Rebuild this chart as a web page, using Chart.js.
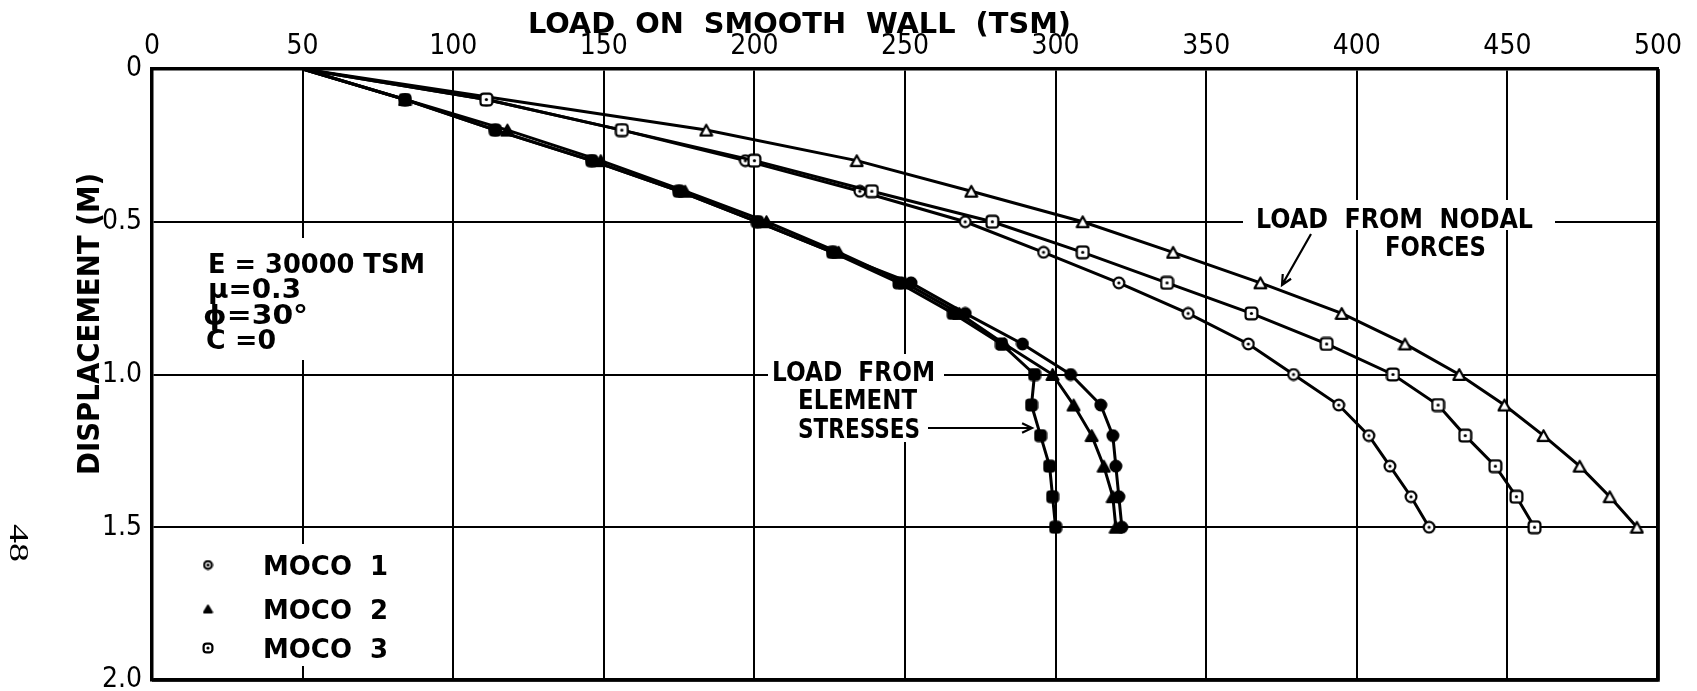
<!DOCTYPE html>
<html>
<head>
<meta charset="utf-8">
<script src="https://cdn.jsdelivr.net/npm/chart.js@4.4.1/dist/chart.umd.min.js"></script>
<style>
  html, body { margin: 0; padding: 0; background: #fff; }
  #chart { display: block; }
</style>
</head>
<body>
<canvas id="chart" width="1697" height="691"></canvas>
<script>
// displacement (M) at each load step
const displacement = [0, 0.1, 0.2, 0.3, 0.4, 0.5, 0.6, 0.7, 0.8, 0.9, 1.0, 1.1, 1.2, 1.3, 1.4, 1.5]

// load from nodal forces (TSM)
const nodalMoco1 = [50, 111, 156, 197, 235, 270, 296, 321, 344, 364, 379, 394, 404, 411, 418, 424]
const nodalMoco2 = [50, null, 184, 234, 272, 309, 339, 368, 395, 416, 434, 449, 462, 474, 484, 493]
const nodalMoco3 = [50, 111, 156, 200, 239, 279, 309, 337, 365, 390, 412, 427, 436, 446, 453, 459]

// load from element stresses (TSM)
const elemMoco1 = [50, 84, 114, 146, 175, 201, 226, 252, 270, 289, 305, 315, 319, 320, 321, 322]
const elemMoco2 = [50, 84, 118, 149, 177, 204, 228, 250, 268, 283, 299, 306, 312, 316, 319, 320]
const elemMoco3 = [50, 84, 114, 146, 175, 201, 226, 248, 266, 282, 293, 292, 295, 298, 299, 300]

const legendLabels = ['MOCO  1', 'MOCO  2', 'MOCO  3']
const paramLines = ['E = 30000 TSM', 'μ=0.3', 'ϕ=30°', 'C =0']

const FONT = '"DejaVu Sans Condensed", "Liberation Sans Narrow", "DejaVu Sans", sans-serif'

function makeMarker(shape, filled, size) {
  const c = document.createElement('canvas')
  c.width = size
  c.height = size
  const g = c.getContext('2d')
  const m = size / 2
  const lw = 2.2
  g.lineWidth = lw
  g.strokeStyle = '#000'
  g.fillStyle = filled ? '#000' : '#fff'
  g.lineJoin = 'round'
  g.beginPath()
  if (shape === 'circle') {
    g.arc(m, m, m - lw / 2 - 0.5, 0, Math.PI * 2)
  } else if (shape === 'rect') {
    g.roundRect(lw / 2 + 0.5, lw / 2 + 0.5, size - lw - 1, size - lw - 1, 3)
  } else {
    g.moveTo(m, lw)
    g.lineTo(size - lw / 2 - 0.5, size - lw / 2 - 1)
    g.lineTo(lw / 2 + 0.5, size - lw / 2 - 1)
    g.closePath()
  }
  g.fill()
  g.stroke()
  if (!filled && shape !== 'triangle') {
    g.fillStyle = '#000'
    g.beginPath()
    g.arc(m, m, 1.6, 0, Math.PI * 2)
    g.fill()
  }
  return c
}

const markers = {
  circleOpen: makeMarker('circle', false, 14),
  triOpen: makeMarker('triangle', false, 15),
  rectOpen: makeMarker('rect', false, 15),
  circleFill: makeMarker('circle', true, 14),
  triFill: makeMarker('triangle', true, 15),
  rectFill: makeMarker('rect', true, 14)
}
const legendMarkers = [makeMarker('circle', false, 11), makeMarker('triangle', true, 11), makeMarker('rect', false, 12)]

function toPoints(loads) {
  return loads
    .map((x, i) => ({ x: x, y: displacement[i] }))
    .filter(p => p.x !== null)
}

function series(label, loads, marker) {
  return {
    label: label,
    data: toPoints(loads),
    showLine: true,
    borderColor: '#000',
    borderWidth: 3,
    pointStyle: marker,
    pointRadius: ctx => (ctx.dataIndex === 0 ? 0 : 6),
    tension: 0
  }
}

function fitText(ctx, str, x, y, font, width) {
  ctx.save()
  ctx.font = font
  ctx.textAlign = 'left'
  ctx.textBaseline = 'alphabetic'
  const w = ctx.measureText(str).width
  ctx.translate(x, y)
  if (width) ctx.scale(width / w, 1)
  ctx.fillText(str, 0, 0)
  ctx.restore()
}

function arrow(ctx, x1, y1, x2, y2) {
  const a = Math.atan2(y2 - y1, x2 - x1)
  ctx.save()
  ctx.strokeStyle = '#000'
  ctx.lineWidth = 2.2
  ctx.beginPath()
  ctx.moveTo(x1, y1)
  ctx.lineTo(x2, y2)
  ctx.moveTo(x2 - 11 * Math.cos(a - 0.45), y2 - 11 * Math.sin(a - 0.45))
  ctx.lineTo(x2, y2)
  ctx.lineTo(x2 - 11 * Math.cos(a + 0.45), y2 - 11 * Math.sin(a + 0.45))
  ctx.stroke()
  ctx.restore()
}

const notes = {
  id: 'notes',
  beforeDraw(chart) {
    const ctx = chart.ctx
    ctx.save()
    ctx.fillStyle = '#fff'
    ctx.fillRect(0, 0, chart.width, chart.height)
    ctx.restore()
  },
  beforeDatasetsDraw(chart) {
    const ctx = chart.ctx
    const a = chart.chartArea
    ctx.save()
    // white patches behind the lettering
    ctx.fillStyle = '#fff'
    ctx.fillRect(200, 238, 232, 122)
    ctx.fillRect(196, 544, 200, 122)
    ctx.fillRect(768, 354, 176, 88)
    ctx.fillRect(1243, 200, 312, 30)
    ctx.fillRect(1373, 228, 124, 34)

    // frame right and bottom
    ctx.strokeStyle = '#000'
    ctx.lineWidth = 3.5
    ctx.beginPath()
    ctx.moveTo(a.right, a.top)
    ctx.lineTo(a.right, a.bottom)
    ctx.lineTo(a.left, a.bottom)
    ctx.stroke()

    ctx.fillStyle = '#000'
    const bold = s => 'bold ' + s + 'px ' + FONT

    // titles
    fitText(ctx, 'LOAD  ON  SMOOTH  WALL  (TSM)', 528, 33, bold(29), 543)
    ctx.save()
    ctx.translate(99, 475)
    ctx.rotate(-Math.PI / 2)
    fitText(ctx, 'DISPLACEMENT (M)', 0, 0, bold(31), 302)
    ctx.restore()

    // page number
    ctx.save()
    ctx.translate(10, 524)
    ctx.rotate(Math.PI / 2)
    fitText(ctx, '48', 0, 0, '28px "Liberation Serif", serif', 38)
    ctx.restore()

    // material parameters
    const pw = [217, 93, 105, 70]
    const px = [208, 208, 203, 206]
    const pb = [273, 298, 324, 349]
    paramLines.forEach((t, i) => fitText(ctx, t, px[i], pb[i], bold(26), pw[i]))

    // legend
    const ly = [565, 609, 648]
    legendLabels.forEach((t, i) => {
      const m = legendMarkers[i]
      ctx.drawImage(m, 208 - m.width / 2, ly[i] - m.height / 2)
      fitText(ctx, t, 263, ly[i] + 10, bold(27), 125)
    })

    // curve annotations
    fitText(ctx, 'LOAD  FROM  NODAL', 1256, 228, bold(27), 277)
    fitText(ctx, 'FORCES', 1385, 256, bold(27), 101)
    arrow(ctx, 1311, 234, 1282, 285)

    fitText(ctx, 'LOAD  FROM', 772, 381, bold(27), 163)
    fitText(ctx, 'ELEMENT', 798, 409, bold(27), 119)
    fitText(ctx, 'STRESSES', 798, 438, bold(27), 122)
    arrow(ctx, 928, 428, 1032, 428)
    ctx.restore()
  }
}

const ctx = document.getElementById('chart').getContext('2d')
const chart = new Chart(ctx, {
  type: 'scatter',
  data: {
    datasets: [
      series('Nodal MOCO 3', nodalMoco3, markers.rectOpen),
      series('Nodal MOCO 1', nodalMoco1, markers.circleOpen),
      series('Nodal MOCO 2', nodalMoco2, markers.triOpen),
      series('Element MOCO 1', elemMoco1, markers.circleFill),
      series('Element MOCO 2', elemMoco2, markers.triFill),
      series('Element MOCO 3', elemMoco3, markers.rectFill)
    ]
  },
  options: {
    responsive: false,
    animation: false,
    events: [],
    layout: { padding: { left: 0, right: 39, top: 0, bottom: 11 } },
    plugins: {
      legend: { display: false },
      tooltip: { enabled: false }
    },
    scales: {
      x: {
        type: 'linear',
        position: 'top',
        min: 0,
        max: 500,
        afterFit: s => {
          s.height = 69
          s.paddingLeft = 0
          s.paddingRight = 0
        },
        ticks: {
          stepSize: 50,
          color: '#000',
          padding: 5,
          font: { family: FONT, size: 28 }
        },
        grid: {
          color: '#000',
          lineWidth: c => (c.tick && c.tick.value === 500 ? 3.5 : 2),
          drawTicks: false
        },
        border: { color: '#000', width: 3.5 }
      },
      y: {
        type: 'linear',
        reverse: true,
        min: 0,
        max: 2,
        afterFit: s => {
          s.width = 152
          s.paddingTop = 0
          s.paddingBottom = 0
        },
        ticks: {
          stepSize: 0.5,
          color: '#000',
          padding: 10,
          font: { family: FONT, size: 28 },
          callback: v => (v === 0 ? '0' : v.toFixed(1))
        },
        grid: {
          color: '#000',
          lineWidth: c => (c.tick && c.tick.value === 2 ? 3.5 : 2),
          drawTicks: false
        },
        border: { color: '#000', width: 3.5 }
      }
    }
  },
  plugins: [notes]
})
</script>
</body>
</html>
